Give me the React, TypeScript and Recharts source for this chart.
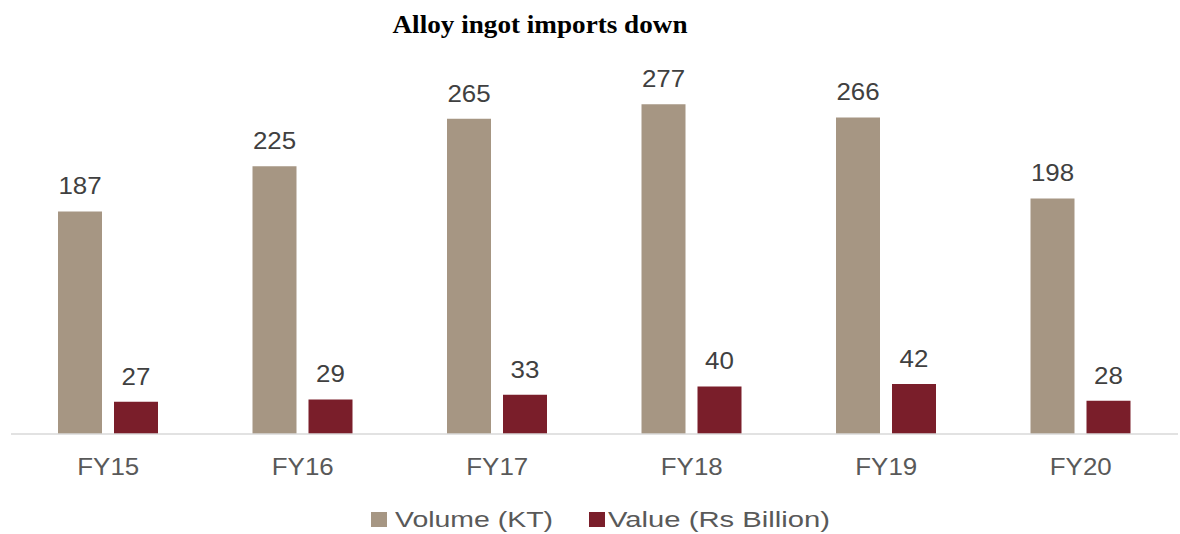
import React from 'react';
import { BarChart, Bar, XAxis, YAxis, Legend, LabelList } from 'recharts';

const categories = ['FY15', 'FY16', 'FY17', 'FY18', 'FY19', 'FY20'];
const volumeKT = [187, 225, 265, 277, 266, 198];
const valueRsBillion = [27, 29, 33, 40, 42, 28];
const seriesNames = ['Volume (KT)', 'Value (Rs Billion)'];
const chartTitle = 'Alloy ingot imports down';

const VOLUME_COLOR = '#A69683';
const VALUE_COLOR = '#7A1E2A';
const FONT = '"Liberation Sans", Arial, sans-serif';

const data = categories.map((c, i) => ({
  category: c,
  volume: volumeKT[i],
  value: valueRsBillion[i],
}));

const renderLabel = (props: any) => {
  const { x, y, width, value } = props;
  const cx = Number(x) + Number(width) / 2;
  const cy = Number(y) - 17;
  return (
    <g transform={`translate(${cx},${cy}) scale(1.08,1)`}>
      <text x={0} y={0} textAnchor="middle" fontSize={24} fontFamily={FONT} fill="#404040">
        {value}
      </text>
    </g>
  );
};

const renderTick = (props: any) => {
  const { x, y, payload } = props;
  return (
    <g transform={`translate(${x},${y}) scale(1.08,1)`}>
      <text x={0} y={0} dy={33} textAnchor="middle" fontSize={24} fontFamily={FONT} fill="#595959">
        {payload.value}
      </text>
    </g>
  );
};

const renderLegend = () => {
  const items = [
    { name: seriesNames[0], color: VOLUME_COLOR, sx: 371, tx: 395, tw: 158 },
    { name: seriesNames[1], color: VALUE_COLOR, sx: 589, tx: 608, tw: 222 },
  ];
  return (
    <svg width={1180} height={30} style={{ display: 'block' }}>
      {items.map((it) => (
        <g key={it.name}>
          <rect x={it.sx} y={8} width={16} height={15} fill={it.color} />
          <text
            x={it.tx}
            y={23}
            fontSize={22}
            fontFamily={FONT}
            fill="#595959"
            textLength={it.tw}
            lengthAdjust="spacingAndGlyphs"
          >
            {it.name}
          </text>
        </g>
      ))}
    </svg>
  );
};

export default function App() {
  return (
    <div style={{ position: 'absolute', left: 0, top: 0, width: 1180, height: 534, background: '#fff' }}>
      <svg width={1180} height={50} style={{ position: 'absolute', left: 0, top: 0 }}>
        <text
          x={540}
          y={33}
          textAnchor="middle"
          fontSize={25}
          fontWeight="bold"
          fontFamily='"Liberation Serif", "Times New Roman", serif'
          fill="#000"
          textLength={295}
          lengthAdjust="spacingAndGlyphs"
        >
          {chartTitle}
        </text>
      </svg>
      <div style={{ position: 'absolute', left: 0, top: 0 }}>
        <BarChart
          width={1180}
          height={534}
          data={data}
          margin={{ top: 77, right: 2, bottom: 30, left: 11 }}
          barSize={44}
          barGap={12}
        >
          <XAxis
            dataKey="category"
            height={40}
            axisLine={{ stroke: '#D9D9D9', strokeWidth: 1.5 }}
            tickLine={false}
            tick={renderTick}
            interval={0}
          />
          <YAxis hide domain={[0, 300]} />
          <Legend verticalAlign="bottom" height={30} content={renderLegend} wrapperStyle={{ bottom: 0, left: 0 }} />
          <Bar dataKey="volume" name={seriesNames[0]} fill={VOLUME_COLOR} isAnimationActive={false}>
            <LabelList dataKey="volume" content={renderLabel} />
          </Bar>
          <Bar dataKey="value" name={seriesNames[1]} fill={VALUE_COLOR} isAnimationActive={false}>
            <LabelList dataKey="value" content={renderLabel} />
          </Bar>
        </BarChart>
      </div>
    </div>
  );
}
